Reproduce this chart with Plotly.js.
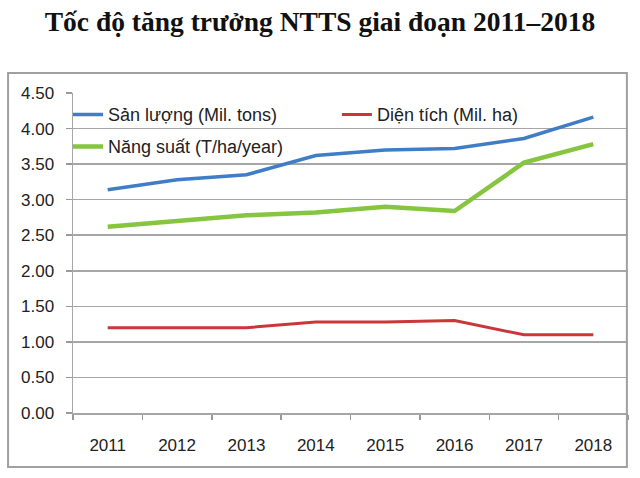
<!DOCTYPE html>
<html>
<head>
<meta charset="utf-8">
<script src="https://cdn.plot.ly/plotly-3.0.1.min.js"></script>
<style>html,body{margin:0;padding:0;background:#fff;}#chart{width:640px;height:478px;}</style>
</head>
<body>
<div id="chart"></div>
<script>
var years = ["2011","2012","2013","2014","2015","2016","2017","2018"];
var sanLuong = [3.14, 3.28, 3.35, 3.62, 3.70, 3.72, 3.86, 4.16];
var dienTich = [1.20, 1.20, 1.20, 1.28, 1.28, 1.30, 1.10, 1.10];
var nangSuat = [2.62, 2.70, 2.78, 2.82, 2.90, 2.84, 3.52, 3.78];
var seriesNames = ["Sản lượng (Mil. tons)", "Diện tích (Mil. ha)", "Năng suất (T/ha/year)"];
var yTicks = [0, 0.5, 1, 1.5, 2, 2.5, 3, 3.5, 4, 4.5];

var traces = [
  {x: years, y: sanLuong, name: seriesNames[0], type: "scatter", mode: "lines", legend: "legend",
   line: {color: "#3f7dc6", width: 3.5}},
  {x: years, y: dienTich, name: seriesNames[1], type: "scatter", mode: "lines", legend: "legend2",
   line: {color: "#c9373a", width: 3}},
  {x: years, y: nangSuat, name: seriesNames[2], type: "scatter", mode: "lines", legend: "legend3",
   line: {color: "#86c540", width: 4.5}}
];

var legFont = {family: "Liberation Sans, Arial, sans-serif", size: 18, color: "#222"};
function leg(x, y) {
  return {x: x, y: y, xanchor: "left", yanchor: "top", bgcolor: "rgba(0,0,0,0)",
          borderwidth: 0, font: legFont};
}

var layout = {
  width: 640, height: 478,
  margin: {l: 73, r: 12, t: 93, b: 65},
  paper_bgcolor: "#fff", plot_bgcolor: "#fff",
  title: {text: "<b>Tốc độ tăng trưởng NTTS giai đoạn 2011–2018</b>",
    font: {family: "Liberation Serif, Times New Roman, serif", size: 27.5, color: "#111"},
    x: 0.5, xref: "container", y: 0.955, yref: "container", xanchor: "center", yanchor: "middle"},
  font: {family: "Liberation Sans, Arial, sans-serif", color: "#222"},
  xaxis: {type: "category", tickson: "boundaries", ticks: "outside", ticklen: 5,
    tickcolor: "#999", tickwidth: 1.5, showgrid: false, showline: true, linecolor: "#a6a6a6", linewidth: 1.5,
    tickfont: {size: 17, color: "#222"}, ticklabelstandoff: 16, range: [-0.5, 7.5], fixedrange: true},
  yaxis: {range: [0, 4.5], tickvals: yTicks, tickformat: ".2f", ticks: "outside", ticklen: 6,
    tickcolor: "#999", tickwidth: 1.5, showgrid: true, gridcolor: "#a6a6a6", gridwidth: 1.5,
    showline: true, linecolor: "#a6a6a6", linewidth: 1.5, zeroline: false,
    tickfont: {size: 17, color: "#222"}, ticklabelstandoff: 8, fixedrange: true},
  legend: leg(-0.009, 0.990),
  legend2: leg(0.4755, 0.990),
  legend3: leg(-0.009, 0.890),
  showlegend: true,
  shapes: [
    {type: "rect", xref: "paper", yref: "paper", x0: -0.117, x1: 0.998, y0: -0.169, y1: 1.0625,
     line: {color: "#a0a0a0", width: 2}, fillcolor: "rgba(0,0,0,0)"}
  ]
};

Plotly.newPlot("chart", traces, layout, {displayModeBar: false, staticPlot: true});
</script>
</body>
</html>
